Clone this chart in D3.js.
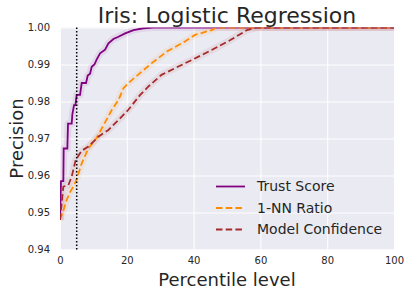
<!DOCTYPE html>
<html>
<head>
<meta charset="utf-8">
<script src="https://cdnjs.cloudflare.com/ajax/libs/d3/7.8.5/d3.min.js"></script>
<style>
	body { margin: 0; background: #fff; }
	svg { display: block; font-family: 'DejaVu Sans', sans-serif; }
</style>
</head>
<body>
<div id="chart"></div>
<script>
// values
var trustX = [0, 0.3, 1.0, 1.1, 2.2, 2.4, 3.5, 3.7, 4.2, 4.6, 5.0, 6.0, 6.5, 7.8, 8.3, 9.0, 9.5, 10.3, 11, 12, 13.5, 14.5, 16, 17.5, 19.5, 22, 25, 28, 100];
var trustY = [0.948, 0.9585, 0.9585, 0.9673, 0.9673, 0.974, 0.974, 0.9765, 0.979, 0.979, 0.9818, 0.9818, 0.985, 0.985, 0.987, 0.9875, 0.9894, 0.990, 0.9914, 0.993, 0.994, 0.9957, 0.9969, 0.9975, 0.9984, 0.9993, 0.9998, 1.0, 1.0];

var nnX = [0, 1, 2, 3, 4, 5, 6.5, 8.5, 11, 15.5, 17.5, 19, 20.4, 25, 27.4, 32, 37.4, 40.4, 45.4, 47, 100];
var nnY = [0.948, 0.9505, 0.9534, 0.9555, 0.957, 0.959, 0.9633, 0.9673, 0.9702, 0.9777, 0.9804, 0.9836, 0.9849, 0.9885, 0.9903, 0.9935, 0.9962, 0.998, 0.9993, 1.0, 1.0];

var confX = [0, 1, 2.5, 3.5, 4.7, 6.5, 8.5, 11.5, 14.5, 17.5, 20.4, 24, 26.4, 30.4, 34.4, 39.4, 45.4, 51, 56, 59, 100];
var confY = [0.948, 0.957, 0.9574, 0.9597, 0.9642, 0.9667, 0.9678, 0.9705, 0.9723, 0.975, 0.9777, 0.9818, 0.984, 0.9872, 0.989, 0.9912, 0.9939, 0.9966, 0.9993, 1.0, 1.0];

var seriesNames = ['Trust Score', '1-NN Ratio', 'Model Confidence'];
var xTicks = [0, 20, 40, 60, 80, 100];
var yTicks = [0.94, 0.95, 0.96, 0.97, 0.98, 0.99, 1.00];
var cutoff = 5;

var series = [
	{name: seriesNames[0], xs: trustX, ys: trustY, color: 'purple', dash: null},
	{name: seriesNames[1], xs: nnX, ys: nnY, color: 'darkorange', dash: '6.5,3.2'},
	{name: seriesNames[2], xs: confX, ys: confY, color: 'brown', dash: '6.5,3.2'}
];

var margin = {top: 27.5, right: 16, bottom: 47.5, left: 60};
var width = 410, height = 297;
var w = width - margin.left - margin.right;
var h = height - margin.top - margin.bottom;
var textColor = '#262626';

var svg = d3.select('#chart').append('svg')
	.attr('width', width)
	.attr('height', height);

svg.append('defs').append('clipPath')
	.attr('id', 'plotclip')
	.append('rect')
	.attr('width', w)
	.attr('height', h);

var g = svg.append('g').attr('transform', 'translate(' + margin.left + ',' + margin.top + ')');

var x = d3.scaleLinear().domain([0, 100]).range([0, w]);
var y = d3.scaleLinear().domain([0.94, 1.00]).range([h, 0]);

g.append('rect')
	.attr('width', w)
	.attr('height', h)
	.attr('fill', '#EAEAF2');

// grid
g.append('g')
	.attr('class', 'x-grid')
	.attr('transform', 'translate(0,' + h + ')')
	.call(d3.axisBottom(x).tickValues(xTicks).tickSize(-h).tickFormat(''))
	.call(a => a.select('.domain').remove())
	.selectAll('line').attr('stroke', '#fff').attr('stroke-width', 1);

g.append('g')
	.attr('class', 'y-grid')
	.call(d3.axisLeft(y).tickValues(yTicks).tickSize(-w).tickFormat(''))
	.call(a => a.select('.domain').remove())
	.selectAll('line').attr('stroke', '#fff').attr('stroke-width', 1);

// tick labels
var xAxis = g.append('g')
	.attr('class', 'x-axis')
	.attr('transform', 'translate(0,' + h + ')')
	.call(d3.axisBottom(x).tickValues(xTicks).tickSize(0).tickPadding(7).tickFormat(d3.format('d')));
xAxis.select('.domain').remove();
xAxis.selectAll('text').attr('fill', textColor).attr('font-size', 10).attr('font-family', 'DejaVu Sans');

var yAxis = g.append('g')
	.attr('class', 'y-axis')
	.call(d3.axisLeft(y).tickValues(yTicks).tickSize(0).tickPadding(10).tickFormat(d3.format('.2f')));
yAxis.select('.domain').remove();
yAxis.selectAll('text').attr('fill', textColor).attr('font-size', 10).attr('font-family', 'DejaVu Sans');

// lines
var line = d3.line()
	.x(d => x(d[0]))
	.y(d => y(d[1]));

var plot = g.append('g').attr('clip-path', 'url(#plotclip)');

series.forEach(s => {
	var pts = s.xs.map((v, i) => [v, s.ys[i]]);
	plot.append('path')
		.datum(pts)
		.attr('fill', 'none')
		.attr('stroke', s.color)
		.attr('stroke-opacity', 0.08)
		.attr('stroke-width', 7)
		.attr('stroke-linejoin', 'round')
		.attr('d', line);
});

series.forEach(s => {
	var pts = s.xs.map((v, i) => [v, s.ys[i]]);
	plot.append('path')
		.datum(pts)
		.attr('class', 'line')
		.attr('fill', 'none')
		.attr('stroke', s.color)
		.attr('stroke-width', 1.8)
		.attr('stroke-dasharray', s.dash)
		.attr('d', line);
});

// cutoff marker
g.append('line')
	.attr('x1', x(cutoff)).attr('x2', x(cutoff))
	.attr('y1', 0).attr('y2', h)
	.attr('stroke', '#000')
	.attr('stroke-width', 1.5)
	.attr('stroke-dasharray', '1.5,2');

// legend
var legend = g.append('g').attr('transform', 'translate(156,159)');
series.forEach((s, i) => {
	var row = legend.append('g').attr('transform', 'translate(0,' + (i * 21.5) + ')');
	row.append('line')
		.attr('x1', 0).attr('x2', 29)
		.attr('stroke', s.color)
		.attr('stroke-width', 1.8)
		.attr('stroke-dasharray', s.dash);
	row.append('text')
		.attr('x', 41)
		.attr('dy', '0.35em')
		.attr('fill', textColor)
		.attr('font-size', 14)
		.text(s.name);
});

// titles
svg.append('text')
	.attr('x', margin.left + w / 2)
	.attr('y', 22.5)
	.attr('text-anchor', 'middle')
	.attr('fill', textColor)
	.attr('font-size', 22)
	.text('Iris: Logistic Regression');

svg.append('text')
	.attr('x', margin.left + w / 2)
	.attr('y', 285.5)
	.attr('text-anchor', 'middle')
	.attr('fill', textColor)
	.attr('font-size', 18)
	.text('Percentile level');

svg.append('text')
	.attr('transform', 'translate(23,' + (margin.top + h / 2) + ') rotate(-90)')
	.attr('text-anchor', 'middle')
	.attr('fill', textColor)
	.attr('font-size', 18)
	.text('Precision');
</script>
</body>
</html>
